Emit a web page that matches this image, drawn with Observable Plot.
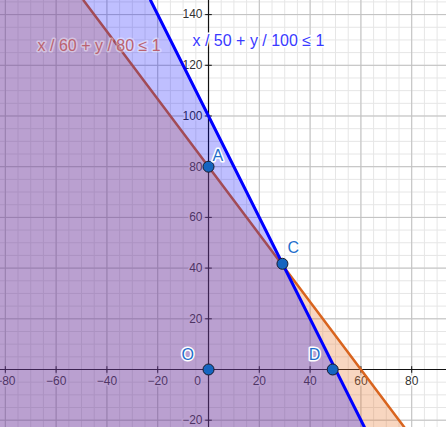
<!DOCTYPE html>
<html>
<head>
<meta charset="utf-8">
<script src="https://cdn.jsdelivr.net/npm/d3@7"></script>
<script src="https://cdn.jsdelivr.net/npm/@observablehq/plot@0.6"></script>
<style>
  html, body { margin: 0; padding: 0; background: white; }
  svg { display: block; }
</style>
</head>
<body>
<div id="chart"></div>
<script>
// ---- data ----
// constraint 1: x / 60 + y / 80 <= 1  (x-intercept, y-intercept)
const orangeIntercepts = [60, 80];
// constraint 2: x / 50 + y / 100 <= 1
const blueIntercepts = [50, 100];
const orangeLabel = "x / 60 + y / 80 ≤ 1";
const blueLabel = "x / 50 + y / 100 ≤ 1";
// named points
const pointNames = ["A", "C", "D", "O"];
const pointX = [0, 29.1, 48.9, 0];
const pointY = [80, 41.7, 0, 0];
// axis ticks
const xTicks = [-80, -60, -40, -20, 20, 40, 60, 80];
const yTicks = [-20, 20, 40, 60, 80, 100, 120, 140];
const xDomain = [-81.9, 93.7];
const yDomain = [-22.88, 145.56];

const points = pointNames.map((n, i) => ({name: n, x: pointX[i], y: pointY[i]}));
const minorX = d3.range(-80, 95, 5);
const minorY = d3.range(-20, 146, 5);
const majorX = d3.range(-80, 95, 20);
const majorY = d3.range(-20, 146, 20);

// boundary x for given y on line x/a + y/b = 1
const bx = ([a, b], y) => a * (1 - y / b);
const edgeRows = [yDomain[1], yDomain[0]];
const region = (ab) => edgeRows.map(y => ({y, x1: xDomain[0], x2: bx(ab, y)}));
const boundary = (ab) => edgeRows.map(y => ({y, x: bx(ab, y)}));

const fmt = d => d < 0 ? "\u2212" + Math.abs(d) : String(d);
const tickLen = 1.3; // data units (~3px)

const font = "Liberation Sans, Arial, sans-serif";

const ptLabelOffsets = {A: [4, -11], C: [5, -16], D: [-24, -15], O: [-27, -15]};

const chart = Plot.plot({
  width: 446,
  height: 427,
  margin: 0,
  x: {domain: xDomain, axis: null},
  y: {domain: yDomain, axis: null},
  style: {background: "white", fontFamily: font},
  marks: [
    // minor grid
    Plot.ruleX(minorX, {stroke: "#e6e6e6", strokeWidth: 1}),
    Plot.ruleY(minorY, {stroke: "#e6e6e6", strokeWidth: 1}),
    // major grid
    Plot.ruleX(majorX, {stroke: "#c0c0c0", strokeWidth: 1}),
    Plot.ruleY(majorY, {stroke: "#c0c0c0", strokeWidth: 1}),
    // axes
    Plot.ruleX([0], {stroke: "#111", strokeWidth: 1.2}),
    Plot.ruleY([0], {stroke: "#111", strokeWidth: 1.2}),
    // ticks
    Plot.link(xTicks, {x1: d => d, x2: d => d, y1: -tickLen, y2: tickLen, stroke: "#111"}),
    Plot.link(yTicks, {y1: d => d, y2: d => d, x1: -tickLen, x2: tickLen, stroke: "#111"}),
    // tick labels
    Plot.text(xTicks, {x: d => d, y: 0, text: fmt, dy: 12, fontSize: 12, fill: "#333",
      stroke: "white", strokeWidth: 3, textAnchor: "middle"}),
    Plot.text([0], {x: 0, y: 0, text: d => "0", dx: -11, dy: 12, fontSize: 12, fill: "#333",
      stroke: "white", strokeWidth: 3, textAnchor: "middle"}),
    Plot.text(yTicks, {x: 0, y: d => d, text: fmt, dx: -6, fontSize: 12, fill: "#333",
      stroke: "white", strokeWidth: 3, textAnchor: "end"}),
    // orange region
    Plot.areaX(region(orangeIntercepts), {y: "y", x1: "x1", x2: "x2", fill: "#e8762d", fillOpacity: 0.3}),
    Plot.line(boundary(orangeIntercepts), {x: "x", y: "y", stroke: "#d9641e", strokeWidth: 2.5}),
    // blue region
    Plot.areaX(region(blueIntercepts), {y: "y", x1: "x1", x2: "x2", fill: "#0000ff", fillOpacity: 0.25}),
    // inequality labels
    Plot.text([orangeLabel], {x: -67.3, y: 127.8, text: d => d, textAnchor: "start", fontSize: 16,
      fill: "#bb6270", stroke: "white", strokeOpacity: 0.4, strokeWidth: 3}),
    Plot.line(boundary(blueIntercepts), {x: "x", y: "y", stroke: "#0000ff", strokeWidth: 3}),
    Plot.text([blueLabel], {x: -6.3, y: 129.8, text: d => d, textAnchor: "start", fontSize: 16,
      fill: "#3a3aff", stroke: "white", strokeWidth: 3}),
    // points
    Plot.dot(points, {x: "x", y: "y", r: 5.5, fill: "#1565c0", stroke: "#1a1a2a", strokeWidth: 1}),
    Plot.text(points, {x: "x", y: "y", text: "name", textAnchor: "start", fontSize: 16,
      fill: "#1f6fcc", stroke: "white", strokeWidth: 3})
  ]
});

// shift point labels individually
chart.querySelectorAll("g[aria-label='text']").forEach(g => {
  const texts = g.querySelectorAll("text");
  if (texts.length !== points.length) return;
  texts.forEach(t => {
    const k = t.textContent;
    if (ptLabelOffsets[k]) {
      const [dx, dy] = ptLabelOffsets[k];
      const tr = t.getAttribute("transform") || "";
      t.setAttribute("transform", tr + ` translate(${dx},${dy})`);
    }
  });
});

document.getElementById("chart").appendChild(chart);
</script>
</body>
</html>
